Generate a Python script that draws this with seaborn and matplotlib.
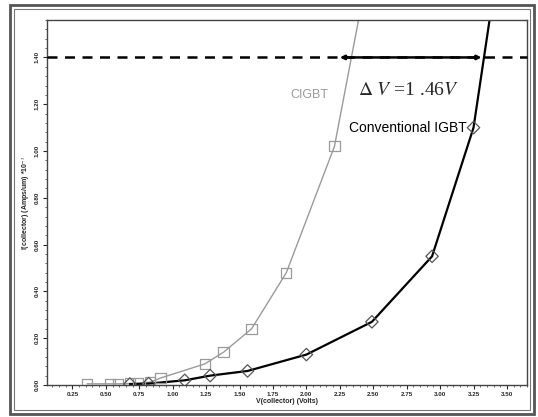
import matplotlib
matplotlib.use("Agg")
import matplotlib.pyplot as plt
import seaborn as sns
import pandas as pd
from matplotlib.patches import Rectangle
from matplotlib.ticker import MultipleLocator

# ---- data ----
cigbt_v = [0.36, 0.53, 0.59, 0.68, 0.74, 0.83, 0.91, 1.24, 1.38, 1.59, 1.85, 2.21]
cigbt_i = [0.005, 0.005, 0.005, 0.006, 0.007, 0.012, 0.03, 0.09, 0.14, 0.24, 0.48, 1.02]
cigbt_exit_v = [2.39]
cigbt_exit_i = [1.56]

conv_v = [0.68, 0.82, 1.09, 1.28, 1.56, 2.00, 2.49, 2.94, 3.25]
conv_i = [0.004, 0.006, 0.02, 0.04, 0.06, 0.13, 0.27, 0.55, 1.10]
conv_exit_v = [3.37]
conv_exit_i = [1.56]

ref_current = 1.40
arrow_v = [2.25, 3.31]
delta_text = r"$\Delta\ V$ =1 .46$V$"

x_ticks = [0.25, 0.50, 0.75, 1.00, 1.25, 1.50, 1.75, 2.00, 2.25, 2.50, 2.75, 3.00, 3.25, 3.50]
y_ticks = [0.00, 0.20, 0.40, 0.60, 0.80, 1.00, 1.20, 1.40]

sns.set_style("white")
plt.rcParams["font.family"] = ["Liberation Sans", "DejaVu Sans"]
plt.rcParams["mathtext.fontset"] = "stix"

fig = plt.figure(figsize=(5.38, 4.17), dpi=100)
ax = fig.add_axes([47 / 538, 1 - 385 / 417, (527 - 47) / 538, (385 - 20) / 417])

gray = "#9a9a9a"
df_c = pd.DataFrame({"V": cigbt_v + cigbt_exit_v, "I": cigbt_i + cigbt_exit_i})
df_k = pd.DataFrame({"V": conv_v + conv_exit_v, "I": conv_i + conv_exit_i})
sns.lineplot(data=df_c, x="V", y="I", ax=ax, color=gray, linewidth=1.0, sort=True)
sns.lineplot(data=df_k, x="V", y="I", ax=ax, color="black", linewidth=1.6, sort=True)
sns.scatterplot(x=cigbt_v, y=cigbt_i, ax=ax, marker="s", s=55,
                facecolors="none", edgecolors=gray, linewidths=0.9, zorder=4)
sns.scatterplot(x=conv_v, y=conv_i, ax=ax, marker="D", s=40,
                facecolors="none", edgecolors="#555555", linewidths=0.9, zorder=4)

ax.set_xlim(0.06, 3.65)
ax.set_ylim(0, 1.56)

# dashed reference line
ax.plot([0.06, 3.65], [ref_current, ref_current], ls=(0, (4, 3)), color="black",
        lw=1.8, clip_on=False, zorder=3)
ax.annotate("", xy=(arrow_v[0], ref_current), xytext=(arrow_v[1], ref_current),
            arrowprops=dict(arrowstyle="<|-|>", color="black", lw=1.8,
                            mutation_scale=6, shrinkA=0, shrinkB=0), zorder=5)
ax.text(2.76, 1.26, delta_text, fontsize=14, family="Liberation Serif",
        ha="center", va="center")
ax.text(2.02, 1.24, "CIGBT", fontsize=9, color=gray, ha="center", va="center")
ax.text(2.76, 1.10, "Conventional IGBT", fontsize=10, color="black",
        ha="center", va="center")

ax.set_xticks(x_ticks)
ax.set_xticklabels([f"{v:.2f}" for v in x_ticks], fontsize=4.5, fontweight="bold")
ax.set_yticks(y_ticks)
ax.set_yticklabels([f"{v:.2f}" for v in y_ticks], fontsize=4.5, fontweight="bold",
                   rotation=90, va="center")
ax.xaxis.set_minor_locator(MultipleLocator(0.05))
ax.yaxis.set_minor_locator(MultipleLocator(0.04))
ax.tick_params(axis="both", which="major", length=3, width=0.8, pad=2,
               bottom=True, left=True, direction="out")
ax.tick_params(axis="both", which="minor", length=1.5, width=0.5,
               bottom=True, left=True, direction="out")
ax.set_xlabel("V(collector) (Volts)", fontsize=5, fontweight="bold", labelpad=1)
ax.set_ylabel(r"I(collector) (Amps/um) *10$^{-3}$", fontsize=5, fontweight="bold",
              labelpad=2)
for sp in ax.spines.values():
    sp.set_color("#444444")
    sp.set_linewidth(1.0)

# double frame around the figure
fig.patches.append(Rectangle((10 / 538, 1 - 414 / 417), 524 / 538, 409 / 417,
                             transform=fig.transFigure, fill=False,
                             edgecolor="#555555", linewidth=2.0))
fig.patches.append(Rectangle((14 / 538, 1 - 410 / 417), 516 / 538, 401 / 417,
                             transform=fig.transFigure, fill=False,
                             edgecolor="#777777", linewidth=0.8))

fig.savefig("out.png", dpi=100)
